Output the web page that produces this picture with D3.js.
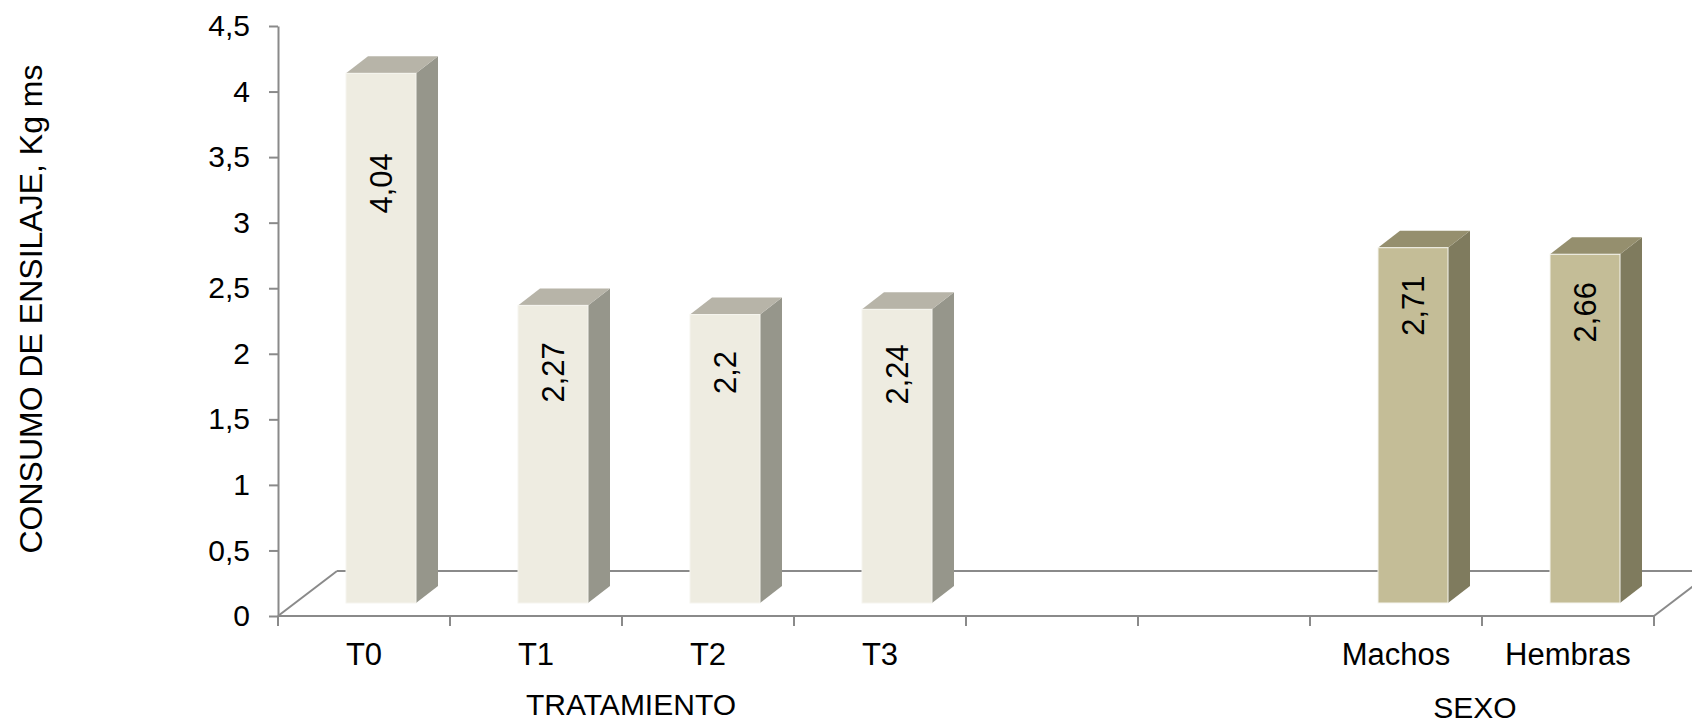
<!DOCTYPE html>
<html>
<head>
<meta charset="utf-8">
<script src="https://cdn.jsdelivr.net/npm/d3@7/dist/d3.min.js"></script>
<style>
  html, body { margin: 0; padding: 0; background: #ffffff; }
  svg { display: block; font-family: "Liberation Sans", Arial, sans-serif; }
</style>
</head>
<body>
<svg id="chart" width="1692" height="723"></svg>
<script>
// Consumo de ensilaje (kg de materia seca) por tratamiento y por sexo
const slots = ["T0", "T1", "T2", "T3", "gap1", "gap2", "Machos", "Hembras"];
const categories = ["T0", "T1", "T2", "T3", "Machos", "Hembras"];
const values = [4.04, 2.27, 2.2, 2.24, 2.71, 2.66];
const groups = ["trat", "trat", "trat", "trat", "sexo", "sexo"];
const yTicks = [0, 0.5, 1, 1.5, 2, 2.5, 3, 3.5, 4, 4.5];
const groupTitles = ["TRATAMIENTO", "SEXO"];
const yTitle = "CONSUMO DE ENSILAJE, Kg ms";

// fine label placement along each column
const labelNudge = { T0: 52, T1: 9, T3: 7 };

const palette = {
  trat: { front: "#eeece1", top: "#b7b4a8", side: "#96968b" },
  sexo: { front: "#c4bd97", top: "#958f6e", side: "#7f7b5e" }
};

const svg = d3.select("#chart");
const fmt = v => String(v).replace(".", ",");

const x = d3.scaleBand().domain(slots).range([278, 1654]).paddingInner(0).paddingOuter(0);
const y = d3.scaleLinear().domain([0, 4.5]).range([616, 26]);

// floor depth and column depth (oblique projection)
const depth = { dx: 59, dy: -45 };
const front = { dx: 17, dy: -13 };
const back = { dx: 39, dy: -30 };
const barW = x.bandwidth() * 0.407;
const axisColor = "#8a8a8a";

// floor outline
const x0 = x.range()[0], x1 = x.range()[1], y0 = y(0);
const floor = svg.append("g").attr("stroke", axisColor).attr("stroke-width", 2).attr("fill", "none");
floor.append("line").attr("x1", x0 + depth.dx).attr("y1", y0 + depth.dy)
  .attr("x2", x1 + depth.dx).attr("y2", y0 + depth.dy);
floor.append("line").attr("x1", x0).attr("y1", y0)
  .attr("x2", x0 + depth.dx).attr("y2", y0 + depth.dy);
floor.append("line").attr("x1", x1).attr("y1", y0)
  .attr("x2", x1 + depth.dx).attr("y2", y0 + depth.dy);

// columns
const data = categories.map((c, i) => ({ cat: c, value: values[i], group: groups[i] }));
const bars = svg.append("g").selectAll("g").data(data).join("g");

bars.each(function(d) {
  const g = d3.select(this);
  const c = palette[d.group];
  const cx = x(d.cat) + x.bandwidth() / 2 + front.dx;
  const left = cx - barW / 2, right = cx + barW / 2;
  const top = y(d.value) + front.dy, bottom = y(0) + front.dy;
  const ddx = back.dx - front.dx, ddy = back.dy - front.dy;

  g.append("path").attr("fill", c.side)
    .attr("d", `M${right},${top}L${right + ddx},${top + ddy}L${right + ddx},${bottom + ddy}L${right},${bottom}Z`);
  g.append("path").attr("fill", c.top)
    .attr("d", `M${left},${top}L${left + ddx},${top + ddy}L${right + ddx},${top + ddy}L${right},${top}Z`);
  g.append("rect").attr("fill", c.front)
    .attr("stroke", "#f6f5ef").attr("stroke-width", 1)
    .attr("x", left).attr("y", top).attr("width", barW).attr("height", bottom - top);

  const fs = 31;
  const ly = top + 58 + (labelNudge[d.cat] || 0);
  g.append("text")
    .attr("transform", `translate(${cx + fs * 0.358},${ly}) rotate(-90)`)
    .attr("text-anchor", "middle")
    .attr("font-size", fs)
    .attr("fill", "#000")
    .text(fmt(d.value));
});

// value axis
const yAxis = svg.append("g").attr("transform", `translate(${x0},0)`)
  .call(d3.axisLeft(y).tickValues(yTicks).tickFormat(fmt).tickSize(9).tickSizeOuter(0).tickPadding(19));
yAxis.select(".domain").attr("stroke", axisColor).attr("stroke-width", 2);
yAxis.selectAll(".tick line").attr("stroke", axisColor).attr("stroke-width", 2);
yAxis.selectAll(".tick text").attr("font-size", 30).attr("fill", "#000")
  .attr("font-family", "Liberation Sans, Arial, sans-serif");

// category axis: front floor edge with boundary ticks
const xa = svg.append("g");
xa.append("line").attr("x1", x0).attr("y1", y0).attr("x2", x1).attr("y2", y0)
  .attr("stroke", axisColor).attr("stroke-width", 2);
const bounds = slots.map(s => x(s)).concat([x1]);
xa.selectAll("line.tk").data(bounds).join("line").attr("class", "tk")
  .attr("x1", d => d).attr("x2", d => d).attr("y1", y0).attr("y2", y0 + 10)
  .attr("stroke", axisColor).attr("stroke-width", 2);
xa.selectAll("text").data(categories).join("text")
  .attr("x", d => x(d) + x.bandwidth() / 2).attr("y", 665)
  .attr("text-anchor", "middle").attr("font-size", 31).attr("fill", "#000")
  .text(d => d);

// group titles
svg.append("text").attr("x", 631).attr("y", 715).attr("text-anchor", "middle")
  .attr("font-size", 30).attr("fill", "#000").text(groupTitles[0]);
svg.append("text").attr("x", 1475).attr("y", 718).attr("text-anchor", "middle")
  .attr("font-size", 30).attr("fill", "#000").text(groupTitles[1]);

// value axis title
svg.append("text").attr("transform", "translate(42,309) rotate(-90)")
  .attr("text-anchor", "middle").attr("font-size", 32).attr("fill", "#000").text(yTitle);
</script>
</body>
</html>
